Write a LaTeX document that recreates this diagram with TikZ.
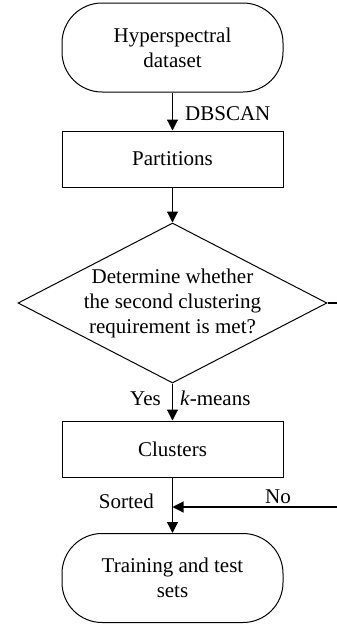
\documentclass[tikz,border=0pt]{standalone}
\usepackage{fontspec}
\setmainfont{Liberation Serif}
\usetikzlibrary{shapes.geometric,arrows.meta}
\begin{document}
\begin{tikzpicture}[x=1pt,y=-1pt,
  every node/.style={font=\fontsize{21}{25}\selectfont},
  term/.style={draw,line width=1pt,rectangle,rounded corners=40pt,minimum width=221pt,minimum height=89pt,inner sep=0pt,align=center},
  procbox/.style={draw,line width=1pt,rectangle,minimum width=221pt,minimum height=56pt,inner sep=0pt,align=center},
  decide/.style={draw,line width=1pt,diamond,minimum width=309pt,minimum height=160pt,inner sep=0pt},
  flow/.style={line width=1.1pt,-{Triangle[length=11pt,width=11pt]}},
  lbl/.style={inner sep=0pt}]
\useasboundingbox (0,0) rectangle (337,625);
\node[term] (top) at (172.5,47.5) {Hyperspectral\\dataset};
\node[procbox] (part) at (172.5,159) {Partitions};
\node[decide] (dec) at (172.5,303) {};
\node[lbl,align=center] (dectext) at (172.5,303) {Determine whether\\the second clustering\\requirement is met?};
\node[procbox] (clu) at (172.5,449) {Clusters};
\node[term] (bot) at (172.5,578) {Training and test\\sets};
\coordinate (r1) at (337,303);
\coordinate (r2) at (337,507);
\draw[flow] (top.south) -- (part.north);
\draw[flow] (part.south) -- (dec.north);
\draw[flow] (dec.south) -- (clu.north);
\draw[flow] (clu.south) -- (bot.north);
\draw[line width=1.1pt] (dec.east) -- (r1);
\draw[flow] (r2) -- (clu.south |- r2);
\node[lbl,anchor=base west] (dbscan) at (185,120) {DBSCAN};
\node[lbl,anchor=base east] (yes) at (161,405) {Yes};
\node[lbl,anchor=base west] (km) at (180,405) {\textit{k}-means};
\node[lbl,anchor=base east] (sorted) at (154,508) {Sorted};
\node[lbl,anchor=base] (no) at (278,503) {No};
\end{tikzpicture}
\end{document}
